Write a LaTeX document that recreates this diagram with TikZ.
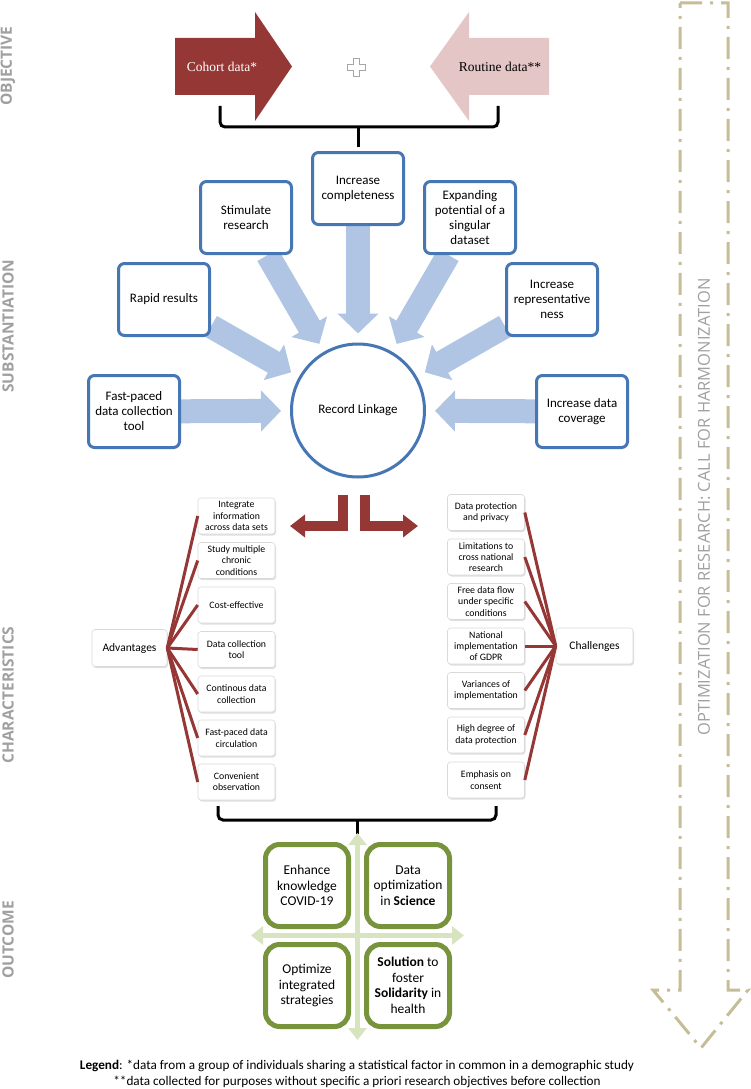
\documentclass[tikz,border=0pt]{standalone}
\usepackage{fontspec}
\setmainfont{Carlito}
\newfontfamily\phasefont{Open Sans}
\newfontfamily\arrowfont{Liberation Serif}
\usetikzlibrary{arrows.meta,shadows,backgrounds}

\definecolor{cohortred}{RGB}{149,55,53}
\definecolor{routinepink}{RGB}{229,198,198}
\definecolor{boxblue}{RGB}{70,118,180}
\definecolor{arrowblue}{RGB}{176,196,228}
\definecolor{olivegreen}{RGB}{119,147,60}
\definecolor{crossgreen}{RGB}{216,228,192}
\definecolor{khaki}{RGB}{198,189,150}
\definecolor{phasegray}{RGB}{160,160,160}

\tikzset{
  phase/.style={text=phasegray, rotate=90, inner sep=0pt, font=\phasefont\bfseries\fontsize{15.5}{16}\selectfont},
  reason/.style={draw=boxblue, line width=3pt, rounded corners=6pt, fill=white, minimum width=91pt, minimum height=72pt, align=center, inner sep=2pt, font=\fontsize{13}{15}\selectfont},
  pushar/.style={draw=arrowblue, line width=24pt, -{Triangle[width=40pt,length=20pt]}, shorten >=9pt},
  itembox/.style={draw=black!15, line width=0.6pt, rounded corners=3pt, fill=white, drop shadow={shadow xshift=1pt,shadow yshift=-1.5pt,opacity=0.25}, minimum width=77pt, minimum height=36pt, align=center, inner sep=1pt, font=\fontsize{9.8}{11.3}\selectfont},
  sidebox/.style={itembox, font=\fontsize{11.5}{13}\selectfont},
  fanline/.style={draw=cohortred, line width=3pt},
  lshape/.style={draw=cohortred, line width=10pt, line join=miter, -{Triangle[width=22pt,length=15pt]}},
  linkbrace/.style={draw=black, line width=3pt, rounded corners=5pt},
  outbox/.style={draw=olivegreen, line width=5pt, rounded corners=14pt, fill=white, drop shadow={shadow xshift=1pt,shadow yshift=-1.5pt,opacity=0.3}, minimum width=83pt, minimum height=82pt, align=center, inner sep=1pt, font=\fontsize{13.5}{15.5}\selectfont},
  crossar/.style={draw=crossgreen, line width=5pt, {Triangle[width=18pt,length=12pt]}-{Triangle[width=18pt,length=12pt]}},
  optpath/.style={draw=khaki, line width=3pt, dash pattern=on 22pt off 8pt on 3pt off 8pt},
}

\begin{document}
\begin{tikzpicture}[x=1pt,y=-1pt]
\useasboundingbox (0,0) rectangle (750,1089);

% phases on the left
\node[phase] (objective) at (8,66) {OBJECTIVE};
\node[phase] (substantiation) at (8,326) {SUBSTANTIATION};
\node[phase] (characteristics) at (8,695) {CHARACTERISTICS};
\node[phase] (outcome) at (8,940) {OUTCOME};

% call for harmonization
\draw[optpath] (680,3) -- (728,3) -- (728,990) -- (748,990) -- (701,1048) -- (653,990) -- (680,990) -- cycle;
\node[rotate=90, text=phasegray, font=\phasefont\fontsize{16.5}{17}\selectfont] (optim) at (704,507) {OPTIMIZATION FOR RESEARCH: CALL FOR HARMONIZATION};

% objective
\fill[cohortred] (175,38) -- (255,38) -- (255,12) -- (292,66.5) -- (255,121) -- (255,95) -- (175,95) -- cycle;
\node[text=white, font=\arrowfont\fontsize{13.5}{15}\selectfont] (cohort) at (222,66.5) {Cohort data*};
\fill[routinepink] (549,38) -- (469,38) -- (469,12) -- (430,66.5) -- (469,121) -- (469,95) -- (549,95) -- cycle;
\node[font=\arrowfont\fontsize{13.5}{15}\selectfont] (routine) at (500,66.5) {Routine data**};
\draw[gray!70, line width=0.8pt] (353,58) -- (359,58) -- (359,64) -- (365,64) -- (365,70) -- (359,70) -- (359,76) -- (353,76) -- (353,70) -- (347,70) -- (347,64) -- (353,64) -- cycle;
\draw[linkbrace] (220,106) -- (220,127) -- (498,127) -- (498,106);
\draw[linkbrace] (358,127) -- (358,147);

% substantiation
\node[reason] (compl) at (358,188.5) {Increase\\completeness};
\node[reason] (stim) at (246,217.5) {Stimulate\\research};
\node[reason] (expand) at (470,217.5) {Expanding\\potential of a\\singular\\dataset};
\node[reason] (rapid) at (164,299.5) {Rapid results};
\node[reason] (repr) at (552,299.5) {Increase\\representative\\ness};
\node[reason] (fast) at (134,411.5) {Fast-paced\\data collection\\tool};
\node[reason] (cover) at (582,411.5) {Increase data\\coverage};
\node[circle, draw=boxblue, line width=3pt, fill=white, minimum size=133pt, font=\fontsize{13}{15}\selectfont] (rl) at (358,410.5) {Record Linkage};

\begin{scope}[on background layer]
\draw[pushar] (compl) -- (rl);
\draw[pushar] (stim) -- (rl);
\draw[pushar] (expand) -- (rl);
\draw[pushar] (rapid) -- (rl);
\draw[pushar] (repr) -- (rl);
\draw[pushar] (fast) -- (rl);
\draw[pushar] (cover) -- (rl);
\end{scope}

% characteristics
\coordinate (lstart) at (342.5,495);
\coordinate (ltip) at (290,526);
\coordinate (rstart) at (364.5,495);
\coordinate (rtip) at (418,526);
\draw[lshape] (lstart) |- (ltip);
\draw[lshape] (rstart) |- (rtip);

\node[sidebox, minimum width=75pt, minimum height=37pt] (adv) at (129.5,648) {Advantages};
\node[itembox] (a1) at (236.5,516) {Integrate\\information\\across data sets};
\node[itembox] (a2) at (236.5,560.5) {Study multiple\\chronic\\conditions};
\node[itembox] (a3) at (236.5,605) {Cost-effective};
\node[itembox] (a4) at (236.5,649.5) {Data collection\\tool};
\node[itembox] (a5) at (236.5,694) {Continous data\\collection};
\node[itembox] (a6) at (236.5,738) {Fast-paced data\\circulation};
\node[itembox] (a7) at (236.5,782) {Convenient\\observation};

\node[sidebox, minimum width=77pt] (chal) at (594.5,646) {Challenges};
\node[itembox] (c1) at (486,512.5) {Data protection\\and privacy};
\node[itembox] (c2) at (486,557) {Limitations to\\cross national\\research};
\node[itembox] (c3) at (486,601.5) {Free data flow\\under specific\\conditions};
\node[itembox] (c4) at (486,646) {National\\implementation\\of GDPR};
\node[itembox] (c5) at (486,690.5) {Variances of\\implementation};
\node[itembox] (c6) at (486,735) {High degree of\\data protection};
\node[itembox] (c7) at (486,780) {Emphasis on\\consent};

\draw[fanline] (adv.east) -- (a1.west);
\draw[fanline] (adv.east) -- (a2.west);
\draw[fanline] (adv.east) -- (a3.west);
\draw[fanline] (adv.east) -- (a4.west);
\draw[fanline] (adv.east) -- (a5.west);
\draw[fanline] (adv.east) -- (a6.west);
\draw[fanline] (adv.east) -- (a7.west);
\draw[fanline] (chal.west) -- (c1.east);
\draw[fanline] (chal.west) -- (c2.east);
\draw[fanline] (chal.west) -- (c3.east);
\draw[fanline] (chal.west) -- (c4.east);
\draw[fanline] (chal.west) -- (c5.east);
\draw[fanline] (chal.west) -- (c6.east);
\draw[fanline] (chal.west) -- (c7.east);

\draw[linkbrace] (218,806) -- (218,820) -- (496,820) -- (496,806);
\draw[linkbrace] (357.5,820) -- (357.5,834);

% outcome
\coordinate (crosstop) at (357.5,833);
\coordinate (crossbot) at (357.5,1040);
\coordinate (crossleft) at (251,935.5);
\coordinate (crossright) at (464,935.5);
\draw[crossar] (crosstop) -- (crossbot);
\draw[crossar] (crossleft) -- (crossright);

\node[outbox] (o1) at (307,885.5) {Enhance\\knowledge\\COVID-19};
\node[outbox] (o2) at (408,885.5) {Data\\optimization\\in \textbf{Science}};
\node[outbox] (o3) at (307,985.5) {Optimize\\integrated\\strategies};
\node[outbox] (o4) at (408,985.5) {\textbf{Solution} to\\foster\\\textbf{Solidarity} in\\health};

% legend
\node[anchor=base, inner sep=0pt, font=\fontsize{13.2}{15}\selectfont] (leg1) at (357,1069) {\textbf{Legend}: *data from a group of individuals sharing a statistical factor in common in a demographic study};
\node[anchor=base, inner sep=0pt, font=\fontsize{13.2}{15}\selectfont] (leg2) at (357,1085) {**data collected for purposes without specific a priori research objectives before collection};
\end{tikzpicture}
\end{document}
